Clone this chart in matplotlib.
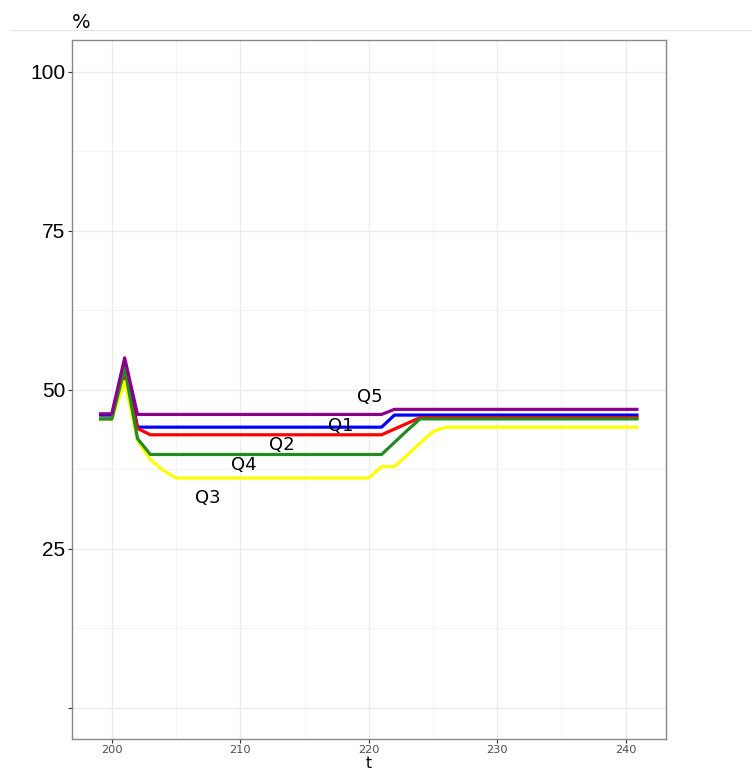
import matplotlib
matplotlib.use("Agg")
import matplotlib.pyplot as plt
from matplotlib.lines import Line2D
from matplotlib.ticker import MultipleLocator

# time axis
t = list(range(199, 242))

# share (%) per quintile group
q1 = [46.0, 46.0, 54.0, 44.1,
      44.1, 44.1, 44.1, 44.1, 44.1, 44.1, 44.1, 44.1, 44.1, 44.1,
      44.1, 44.1, 44.1, 44.1, 44.1, 44.1, 44.1, 44.1, 44.1,
      46.0, 46.0, 46.0, 46.0, 46.0, 46.0, 46.0, 46.0, 46.0, 46.0,
      46.0, 46.0, 46.0, 46.0, 46.0, 46.0, 46.0, 46.0, 46.0, 46.0]
q2 = [45.4, 45.4, 52.3, 43.9,
      42.9, 42.9, 42.9, 42.9, 42.9, 42.9, 42.9, 42.9, 42.9, 42.9,
      42.9, 42.9, 42.9, 42.9, 42.9, 42.9, 42.9, 42.9, 42.9,
      43.8, 44.7,
      45.6, 45.6, 45.6, 45.6, 45.6, 45.6, 45.6, 45.6, 45.6, 45.6,
      45.6, 45.6, 45.6, 45.6, 45.6, 45.6, 45.6, 45.6]
q3 = [45.4, 45.4, 51.3, 42.0, 39.0, 37.3,
      36.1, 36.1, 36.1, 36.1, 36.1, 36.1, 36.1, 36.1,
      36.1, 36.1, 36.1, 36.1, 36.1, 36.1, 36.1, 36.1,
      37.9, 37.9, 39.7, 41.6, 43.4,
      44.1, 44.1, 44.1, 44.1, 44.1, 44.1, 44.1, 44.1,
      44.1, 44.1, 44.1, 44.1, 44.1, 44.1, 44.1, 44.1]
q4 = [45.4, 45.4, 53.4, 42.3,
      39.8, 39.8, 39.8, 39.8, 39.8, 39.8, 39.8, 39.8, 39.8, 39.8,
      39.8, 39.8, 39.8, 39.8, 39.8, 39.8, 39.8, 39.8, 39.8,
      41.7, 43.6,
      45.4, 45.4, 45.4, 45.4, 45.4, 45.4, 45.4, 45.4, 45.4, 45.4,
      45.4, 45.4, 45.4, 45.4, 45.4, 45.4, 45.4, 45.4]
q5 = [46.2, 46.2, 55.0,
      46.1, 46.1, 46.1, 46.1, 46.1, 46.1, 46.1, 46.1, 46.1, 46.1,
      46.1, 46.1, 46.1, 46.1, 46.1, 46.1, 46.1, 46.1, 46.1, 46.1,
      46.9, 46.9, 46.9, 46.9, 46.9, 46.9, 46.9, 46.9, 46.9, 46.9,
      46.9, 46.9, 46.9, 46.9, 46.9, 46.9, 46.9, 46.9, 46.9, 46.9]

series_names = ["Q1", "Q2", "Q3", "Q4", "Q5"]
series_values = [q1, q2, q3, q4, q5]
series_colors = ["#0000ff", "#ff0000", "#ffff00", "#228b22", "#8b008b"]

# in-plot label anchors
label_t = [217.8, 213.2, 207.5, 210.3, 220.1]
label_y = [44.3, 41.3, 33.0, 38.2, 48.9]

x_ticks = [200, 210, 220, 230, 240]
y_ticks = [0, 25, 50, 75, 100]
y_tick_labels = ["", "25", "50", "75", "100"]

fig = plt.figure(figsize=(7.52, 7.71), dpi=100)
ax = fig.add_axes([72 / 752, 1 - 739.3 / 771, (665.5 - 72) / 752, (739.3 - 40) / 771])

for name, vals, col in zip(series_names, series_values, series_colors):
    ax.plot(t, vals, color=col, lw=2.3, solid_capstyle="butt",
            solid_joinstyle="round", zorder=3)

for name, lx, ly in zip(series_names, label_t, label_y):
    ax.text(lx, ly, name, ha="center", va="center", fontsize=13,
            color="black", family="DejaVu Sans", zorder=4)

x0, x1 = min(t), max(t)
xpad = (x1 - x0) * 0.05
ax.set_xlim(x0 - xpad, x1 + xpad)
ax.set_ylim(-5, 105)

ax.set_xticks(x_ticks)
ax.xaxis.set_minor_locator(MultipleLocator(5))
ax.set_yticks(y_ticks)
ax.set_yticklabels(y_tick_labels)
ax.yaxis.set_minor_locator(MultipleLocator(12.5))

ax.grid(which="major", color="#ebebeb", lw=1.0, zorder=0)
ax.grid(which="minor", color="#f3f3f3", lw=0.7, zorder=0)
ax.set_axisbelow(True)

ax.tick_params(axis="both", which="major", length=2.7, width=0.8,
               color="#333333", direction="out")
ax.tick_params(axis="both", which="minor", length=0)
ax.tick_params(axis="x", labelsize=8.2, labelcolor="#4d4d4d", pad=1.5)
ax.tick_params(axis="y", pad=2)
for lab in ax.get_yticklabels():
    lab.set_family(["Liberation Sans", "DejaVu Sans"])
    lab.set_fontsize(15)
    lab.set_color("black")
for lab in ax.get_xticklabels():
    lab.set_family("DejaVu Sans")

for sp in ax.spines.values():
    sp.set_color("#888888")
    sp.set_linewidth(1.0)

# axis titles
fig.text((72 + 665.5) / 2 / 752, 0.0, "t", fontsize=11,
         ha="center", va="bottom")
fig.text(72 / 752, 1 - 23 / 771, "%", fontsize=14, ha="left", va="center")

# thin rule across the top of the figure
fig.add_artist(Line2D([10 / 752, 1.0], [1 - 30 / 771, 1 - 30 / 771],
                      transform=fig.transFigure, color="#e3e3e3", lw=0.8))

fig.savefig("out.png", dpi=100)
